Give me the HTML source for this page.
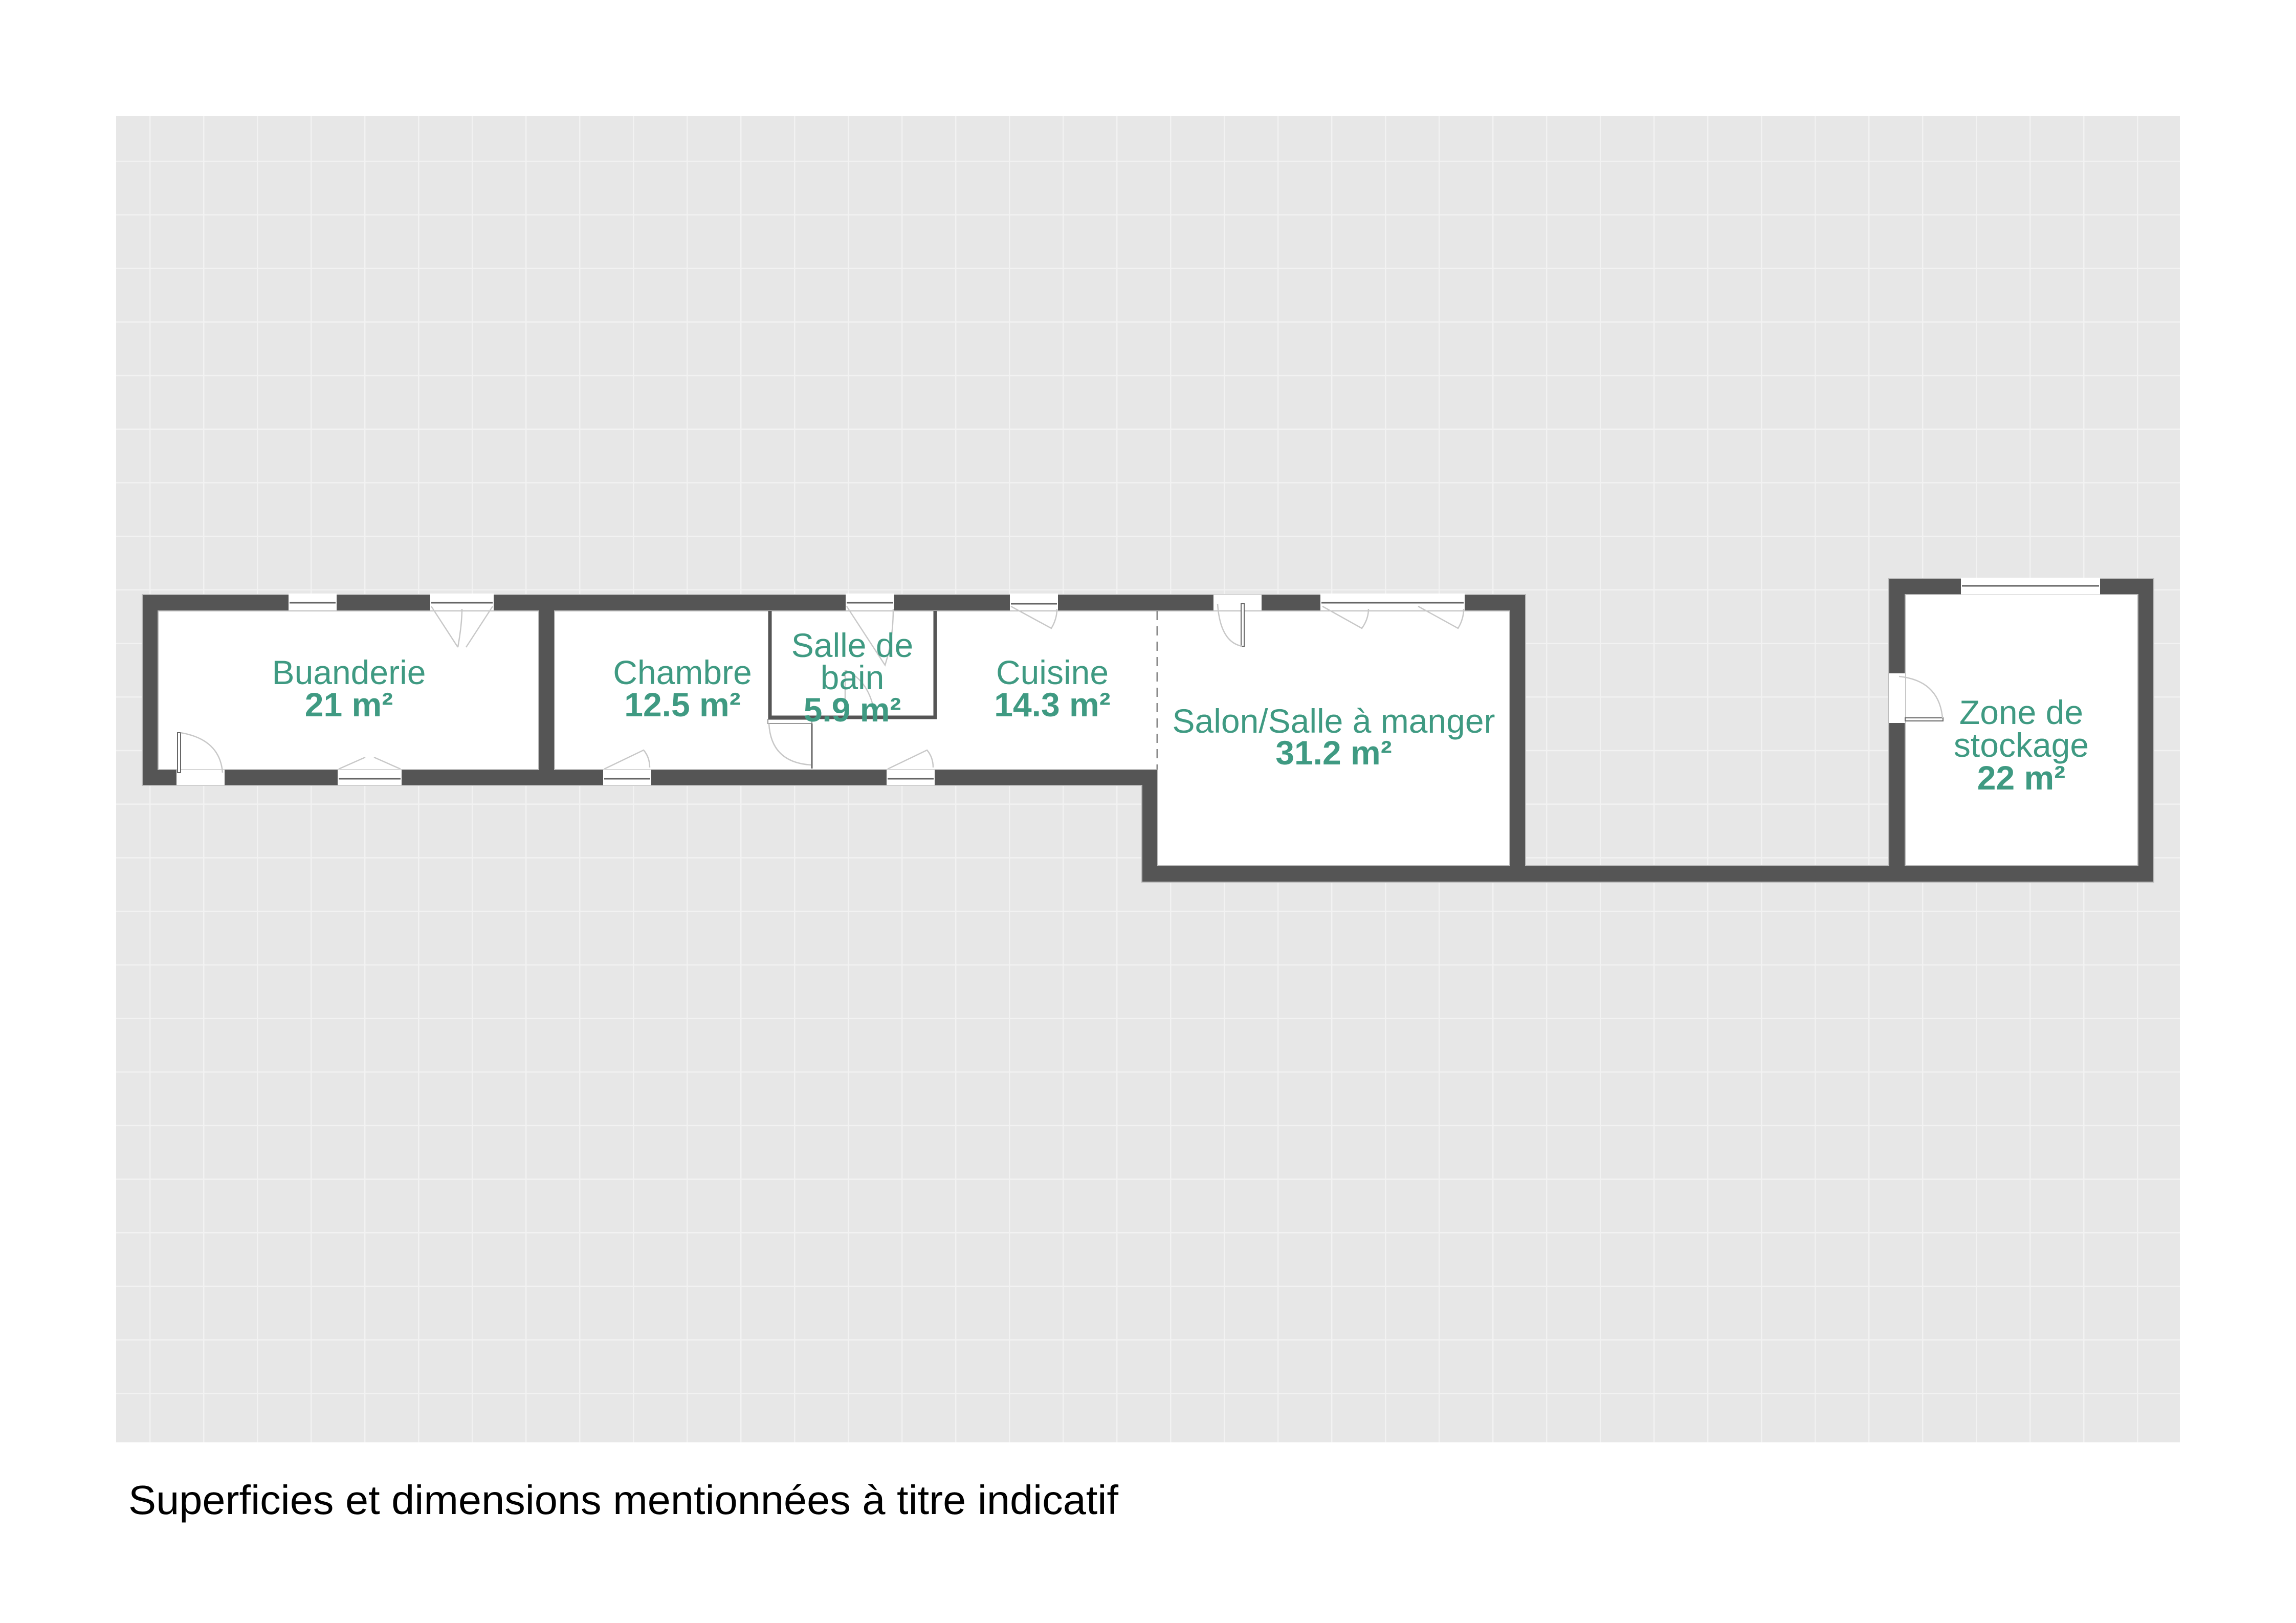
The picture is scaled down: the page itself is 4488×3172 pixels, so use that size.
<!DOCTYPE html>
<html><head><meta charset="utf-8"><style>
html,body{margin:0;padding:0;background:#fff;}
svg{display:block;}
.t{font-family:"Liberation Sans",sans-serif;fill:#3f9a82;font-size:66px;text-anchor:middle;}
.b{font-weight:bold;}
.win{fill:#fff;}
.ws{fill:none;stroke:#666;stroke-width:3;}
.sw{fill:none;stroke:#c8c8c8;stroke-width:2.5;}
</style></head><body>
<svg width="4488" height="3172" viewBox="0 0 4488 3172" xmlns="http://www.w3.org/2000/svg">
<defs>
<pattern id="g" patternUnits="userSpaceOnUse" x="292" y="314" width="105" height="104.7">
<rect width="105" height="104.7" fill="#e7e7e7"/>
<rect x="0" y="0" width="2.5" height="104.7" fill="#f2f2f2"/>
<rect x="0" y="0" width="105" height="2.5" fill="#f2f2f2"/>
</pattern>
</defs>
<rect x="227" y="227" width="4034" height="2592" fill="url(#g)"/>

<g fill="#fff">
<rect x="309" y="1194" width="744" height="310"/>
<path d="M1084 1194 L2951 1194 L2951 1692 L2263 1692 L2263 1504 L1084 1504 Z"/>
<rect x="3724" y="1162" width="455" height="530"/>
</g>

<path fill="#555" stroke="#bbb" stroke-width="2" fill-rule="evenodd" d="
M278 1162 L2982 1162 L2982 1692 L3692 1692 L3692 1131 L4210 1131 L4210 1724 L2232 1724 L2232 1535 L278 1535 Z
M309 1194 L1053 1194 L1053 1504 L309 1504 Z
M1084 1194 L2951 1194 L2951 1692 L2263 1692 L2263 1504 L1084 1504 Z
M3724 1162 L4179 1162 L4179 1692 L3724 1692 Z"/>
<rect x="1501" y="1406" width="86" height="8" fill="#fff" stroke="#999" stroke-width="2"/>
<path fill="none" stroke="#555" stroke-width="7" d="M1505 1194 L1505 1402 L1828 1402 L1828 1194"/>
<line x1="2262" y1="1194" x2="2262" y2="1504" stroke="#888" stroke-width="3" stroke-dasharray="18 12"/>

<g>
<rect class="win" x="564" y="1160" width="94" height="33"/><line class="ws" x1="566" y1="1178" x2="656" y2="1178"/>
<rect class="win" x="841" y="1160" width="124" height="33"/><line class="ws" x1="843" y1="1178" x2="963" y2="1178"/>
<path class="sw" d="M843 1185 L895 1265 M963 1185 L911 1265 M895 1265 Q903 1220 903 1190"/>
<rect class="win" x="1653" y="1160" width="95" height="33"/><line class="ws" x1="1655" y1="1178" x2="1746" y2="1178"/>
<path class="sw" d="M1655 1185 L1730 1300 Q1746 1250 1746 1190"/>
<rect class="win" x="1974" y="1160" width="94" height="33"/><line class="ws" x1="1976" y1="1180" x2="2066" y2="1180"/>
<path class="sw" d="M1976 1185 L2055 1228 Q2066 1210 2066 1190"/>
<rect class="win" x="2372" y="1162" width="94" height="31"/>
<rect x="2426" y="1180" width="6" height="83" fill="#fff" stroke="#666" stroke-width="2"/>
<path class="sw" d="M2380 1180 Q2385 1255 2428 1263"/>
<rect class="win" x="2581" y="1160" width="282" height="33"/><line class="ws" x1="2583" y1="1178" x2="2861" y2="1178"/>
<path class="sw" d="M2585 1185 L2662 1228 Q2675 1210 2675 1190 M2772 1185 L2850 1228 Q2861 1210 2861 1190"/>
<rect class="win" x="3833" y="1129" width="272" height="33"/><line class="ws" x1="3835" y1="1145" x2="4103" y2="1145"/>
</g>
<g>
<rect class="win" x="345" y="1504" width="94" height="31"/>
<rect x="347" y="1432" width="6" height="78" fill="#fff" stroke="#666" stroke-width="2"/>
<path class="sw" d="M353 1432 Q430 1445 435 1510"/>
<rect class="win" x="660" y="1504" width="125" height="31"/><line class="ws" x1="662" y1="1522" x2="783" y2="1522"/>
<path class="sw" d="M662 1503 L714 1480 M783 1503 L731 1480"/>
<rect class="win" x="1179" y="1504" width="94" height="31"/><line class="ws" x1="1181" y1="1522" x2="1271" y2="1522"/>
<path class="sw" d="M1181 1503 L1258 1466 Q1270 1480 1270 1500"/>
<rect class="win" x="1733" y="1504" width="94" height="31"/><line class="ws" x1="1735" y1="1522" x2="1825" y2="1522"/>
<path class="sw" d="M1735 1503 L1812 1466 Q1824 1480 1824 1500"/>
<line x1="1587" y1="1414" x2="1587" y2="1502" stroke="#666" stroke-width="3"/>
<path class="sw" d="M1503 1414 Q1507 1490 1585 1495"/>
<path class="sw" d="M1652 1310 L1652 1397 M1652 1310 Q1700 1330 1710 1397"/>
<rect class="win" x="3692" y="1316" width="32" height="97"/>
<rect x="3724" y="1403" width="74" height="6" fill="#fff" stroke="#666" stroke-width="2"/>
<path class="sw" d="M3712 1322 Q3790 1330 3797 1403"/>
</g>

<text class="t" x="682" y="1337">Buanderie</text>
<text class="t b" x="682" y="1400">21 m²</text>
<text class="t" x="1334" y="1337">Chambre</text>
<text class="t b" x="1334" y="1400">12.5 m²</text>
<text class="t" x="1666" y="1284">Salle de</text>
<text class="t" x="1666" y="1347">bain</text>
<text class="t b" x="1666" y="1410">5.9 m²</text>
<text class="t" x="2057" y="1337">Cuisine</text>
<text class="t b" x="2057" y="1400">14.3 m²</text>
<text class="t" x="2607" y="1432">Salon/Salle à manger</text>
<text class="t b" x="2607" y="1494">31.2 m²</text>
<text class="t" x="3951" y="1415">Zone de</text>
<text class="t" x="3951" y="1479">stockage</text>
<text class="t b" x="3951" y="1543">22 m²</text>

<text x="251" y="2959" font-family="'Liberation Sans',sans-serif" font-size="80" fill="#000" textLength="1935" lengthAdjust="spacingAndGlyphs">Superficies et dimensions mentionnées à titre indicatif</text>
</svg>
</body></html>
